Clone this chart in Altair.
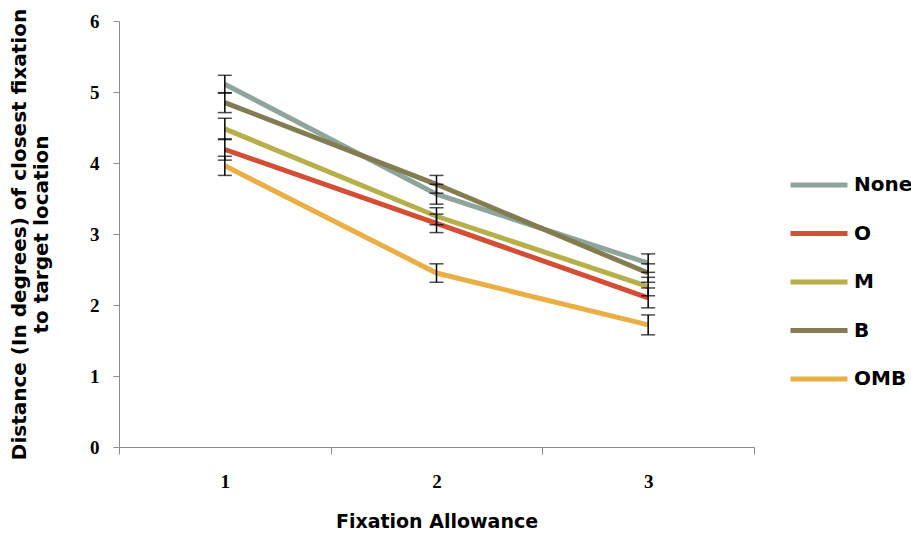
import altair as alt
import pandas as pd

# Fixation allowance levels and the five cue conditions
allowance = [1, 2, 3]
series = ["None", "O", "M", "B", "OMB"]
colors = ["#8FA59C", "#D24E35", "#B6AF4B", "#827C52", "#E9AF45"]

# Mean distance (degrees) of closest fixation to target, per condition
means = {
    "None": [5.11, 3.56, 2.59],
    "O":    [4.19, 3.15, 2.10],
    "M":    [4.48, 3.25, 2.26],
    "B":    [4.85, 3.70, 2.45],
    "OMB":  [3.96, 2.45, 1.72],
}
# Standard errors
errors = {
    "None": [0.125, 0.14, 0.13],
    "O":    [0.15, 0.13, 0.14],
    "M":    [0.15, 0.12, 0.13],
    "B":    [0.14, 0.125, 0.13],
    "OMB":  [0.135, 0.13, 0.14],
}

rows = []
for order, s in enumerate(series):
    for a, m, e in zip(allowance, means[s], errors[s]):
        rows.append({"allowance": a, "series": s, "order": order,
                     "mean": m, "lo": m - e, "hi": m + e})
df = pd.DataFrame(rows)

W, H = 635, 426
AXIS_GREY = "#8C8C8C"
FONT = "DejaVu Sans"

x_scale = alt.Scale(domain=[0.5, 3.5], nice=False, zero=False)
y_scale = alt.Scale(domain=[0, 6], nice=False)

# Ticks sit between categories (half steps); labels only at whole steps
x_enc = alt.X(
    "allowance:Q", scale=x_scale,
    axis=alt.Axis(
        values=[0.5, 1, 1.5, 2, 2.5, 3, 3.5],
        labelExpr="datum.value % 1 === 0 ? format(datum.value, 'd') : ''",
        labelOverlap=False,
        tickOpacity={"condition": {"test": "datum.value % 1 === 0", "value": 0}, "value": 1},
        title="Fixation Allowance",
        grid=False, domainColor=AXIS_GREY, tickColor=AXIS_GREY,
        tickSize=7, labelPadding=18, titlePadding=21,
        labelFont="Liberation Serif", labelFontSize=19, labelFontWeight="bold",
        labelColor="black", titleFont=FONT, titleFontSize=19,
        titleFontWeight="bold", titleColor="black",
    ),
)
y_enc = alt.Y(
    "mean:Q", scale=y_scale,
    axis=alt.Axis(
        values=[0, 1, 2, 3, 4, 5, 6], format="d",
        title=["Distance (In degrees) of closest fixation", "to target location"],
        grid=False, domainColor=AXIS_GREY, tickColor=AXIS_GREY,
        tickSize=6, labelPadding=14,
        labelFont="Liberation Serif", labelFontSize=19, labelFontWeight="bold",
        labelColor="black", titleFont=FONT, titleFontSize=20,
        titleFontWeight="bold", titleColor="black", titlePadding=38,
        titleLineHeight=22,
    ),
)

color_enc = alt.Color(
    "series:N",
    scale=alt.Scale(domain=series, range=colors),
    legend=alt.Legend(
        title=None, orient="none", legendX=688, legendY=152,
        symbolType="M-3,0H3", symbolSize=361, symbolStrokeWidth=5,
        symbolFillColor="transparent", labelOffset=23, rowPadding=26.5,
        labelFont=FONT, labelFontSize=20, labelFontWeight="bold",
        labelColor="black", padding=0,
    ),
)

lines = alt.Chart(df).mark_line(strokeWidth=5, strokeCap="butt").encode(
    x=x_enc, y=y_enc, color=color_enc, detail="series:N",
    order=alt.Order("allowance:Q"),
)

bars = alt.Chart(df).mark_rule(color="black", strokeWidth=1.5).encode(
    x="allowance:Q", y="lo:Q", y2="hi:Q",
)
caps_lo = alt.Chart(df).mark_tick(color="black", thickness=1.5, size=14, orient="horizontal").encode(
    x="allowance:Q", y="lo:Q",
)
caps_hi = alt.Chart(df).mark_tick(color="black", thickness=1.5, size=14, orient="horizontal").encode(
    x="allowance:Q", y="hi:Q",
)

chart = alt.layer(lines, bars, caps_lo, caps_hi).properties(
    width=W, height=H,
    background="white",
    autosize=alt.AutoSizeParams(type="none"),
    padding={"left": 119, "top": 21, "right": 157, "bottom": 86},
).configure_view(stroke=None)

chart.save("out.html", embed_options={"renderer": "svg", "actions": False})
